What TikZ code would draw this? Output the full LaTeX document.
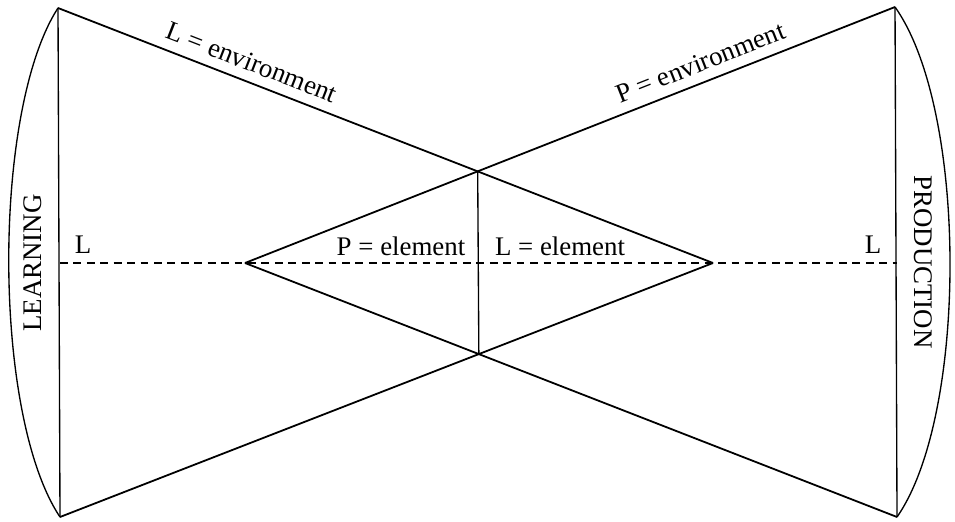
\documentclass[tikz,border=0pt]{standalone}
\usepackage{fontspec}
\setmainfont{Liberation Serif}
\begin{document}
\begin{tikzpicture}[x=0.0157cm, y=-0.0157cm, line width=0.8pt, every node/.style={font=\large}]
  \useasboundingbox (0,0) rectangle (955,522);

  \coordinate (tl) at (58,8);
  \coordinate (bl) at (60,517);
  \coordinate (tr) at (895,7);
  \coordinate (br) at (897,517);
  \coordinate (lt) at (245,263);
  \coordinate (rt) at (713,263);
  \coordinate (ld) at (60,263);
  \coordinate (rd) at (897,263);

  % the two ends
  \draw[line width=0.6pt] (tl) -- (bl);
  \draw[line width=0.6pt] (tr) -- (br);
  \draw[line width=0.6pt] (tl) .. controls (-8,110) and (-8,415) .. (bl);
  \draw[line width=0.6pt] (tr) .. controls (968,110) and (968,415) .. (br);

  % crossing lines
  \draw (tl) -- (rt) node[pos=0.285, above=1pt, sloped] (lenv) {L = environment};
  \draw (bl) -- (rt);
  \draw (lt) -- (tr) node[pos=0.712, above=1pt, sloped] (penv) {P = environment};
  \draw (lt) -- (br);

  \coordinate (top) at (intersection of tl--rt and lt--tr);
  \coordinate (bot) at (intersection of bl--rt and lt--br);
  \draw[line width=0.6pt] (top) -- (bot);

  \draw[dash pattern=on 3.5pt off 2.5pt, line width=0.6pt] (ld) -- (rd);

  \node[rotate=90] (learn) at (33,263) {LEARNING};
  \node[rotate=-90] (prod) at (923,262) {PRODUCTION};
  \node (ll) at (83,245) {L};
  \node (lr) at (873,245) {L};
  \node (pel) at (401,246) {P = element};
  \node (lel) at (560,246) {L = element};
\end{tikzpicture}
\end{document}
